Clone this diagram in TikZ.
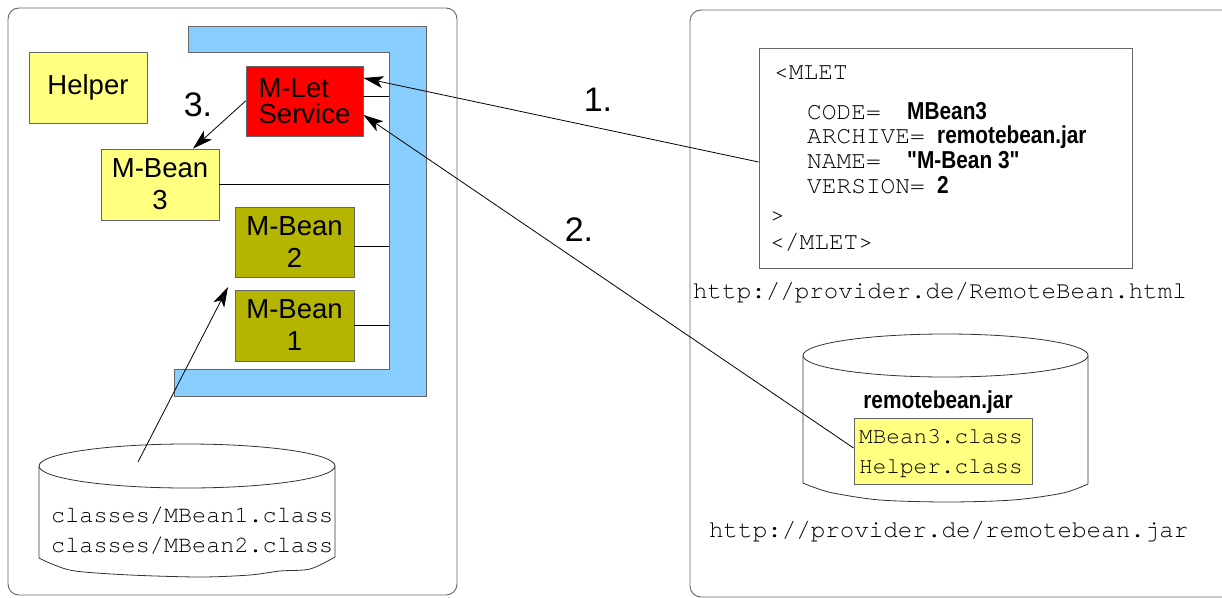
\documentclass[tikz,border=0pt]{standalone}
\usepackage{fontspec}
\setmainfont{Liberation Sans}
\newfontfamily\cour{TeX Gyre Cursor}
\newfontfamily\narrow[FakeStretch=0.85]{Liberation Sans}
\usetikzlibrary{arrows.meta,calc}
\definecolor{bracketblue}{HTML}{87CEFF}
\definecolor{paleyellow}{HTML}{FFFF80}
\definecolor{beanolive}{HTML}{B5B500}
\tikzset{
  frame/.style={draw=black!60, line width=0.9pt, rounded corners=11pt},
  box/.style={draw=black!60, line width=0.9pt, inner sep=0pt, align=center,
    font=\fontsize{27.5}{32}\selectfont},
  wire/.style={draw=black, line width=0.8pt},
  flow/.style={draw=black, line width=0.8pt, -{Stealth[length=20pt,width=12pt,inset=5pt]}},
  numlabel/.style={font=\fontsize{34}{40}\selectfont, inner sep=0pt},
  code/.style={anchor=base west, inner sep=0pt, font=\cour\fontsize{24.5}{29}\selectfont},
  url/.style={anchor=base west, inner sep=0pt, font=\cour\fontsize{24.2}{29}\selectfont},
  val/.style={anchor=base west, inner sep=0pt, font=\narrow\bfseries\fontsize{24.5}{29}\selectfont},
  cyl/.style={draw=black!80, line width=0.8pt, fill=white},
}
\begin{document}
\begin{tikzpicture}[x=1pt,y=-1pt]
\useasboundingbox (0,0) rectangle (1222,597);
\clip (0,0) rectangle (1222,597);

% the two machines
\draw[frame] (8,8) rectangle (457,595);
\draw[frame] (690,10) rectangle (1240,597);

% MBean server rail
\draw[fill=bracketblue, draw=black!60, line width=0.9pt]
  (188,26) -- (426,26) -- (426,396) -- (174,396) -- (174,369) -- (389,369) -- (389,52) -- (188,52) -- cycle;
\coordinate (rail) at (389,52);

% beans and services
\node[box, fill=paleyellow, minimum width=118pt, minimum height=71pt] (helper) at (88,87.5) {Helper};
\node[box, fill=red, minimum width=117pt, minimum height=70pt, align=left,
  font=\fontsize{27.5}{26}\selectfont] (mlet) at (304.5,101) {M-Let\\Service};
\node[box, fill=paleyellow, minimum width=118pt, minimum height=71pt] (mb3) at (160,184.5) {M-Bean\\3};
\node[box, fill=beanolive, minimum width=119pt, minimum height=70pt] (mb2) at (294.5,242) {M-Bean\\2};
\node[box, fill=beanolive, minimum width=119pt, minimum height=71pt] (mb1) at (294.5,325.5) {M-Bean\\1};

% registrations on the rail
\coordinate (w1) at ([yshift=5pt]mlet.east);
\coordinate (w2) at ([yshift=-4pt]mb2.east);
\draw[wire] (w1) -- (w1 -| rail);
\draw[wire] (mb3.east) -- (mb3.east -| rail);
\draw[wire] (w2) -- (w2 -| rail);
\draw[wire] (mb1.east) -- (mb1.east -| rail);

% local class store
\draw[cyl] (39,466) -- (39,558) plot[smooth] coordinates
  {(39,558) (52,564) (75,571) (130,575) (200,577) (250,575) (280,571) (310,569) (335,557)}
  -- (335,466);
\draw[cyl] (187,466) ellipse [x radius=148, y radius=22];
\node[url, font=\cour\fontsize{23.5}{28}\selectfont] (c1) at (51,522) {classes/MBean1.class};
\node[url, font=\cour\fontsize{23.5}{28}\selectfont] (c2) at (51,552) {classes/MBean2.class};
\coordinate (loadsrc) at (138,462);
\coordinate (loadtip) at (228,287);
\draw[flow] (loadsrc) -- (loadtip);

% MLET document
\node[draw=black!60, line width=0.9pt, minimum width=373pt, minimum height=220pt, inner sep=0pt]
  (mletdoc) at (945.5,158) {};
\node[code] at (774,79) {<MLET};
\node[code] at (807,119) {CODE=};
\node[val]  at (907,119) {MBean3};
\node[code] at (807,143) {ARCHIVE=};
\node[val]  at (937,143) {remotebean.jar};
\node[code] at (807,168) {NAME=};
\node[val]  at (907,168) {"M-Bean 3"};
\node[code] at (807,193) {VERSION=};
\node[val]  at (937,193) {2};
\node[code] at (770,222) {>};
\node[code] at (770,249) {</MLET>};
\node[url] (u1) at (693,298) {http://provider.de/RemoteBean.html};

% remote archive
\draw[cyl] (803,355.5) -- (803,483) plot[smooth] coordinates
  {(803,483) (813,487) (833,493) (880,500) (947,502) (1013,500) (1063,493) (1088,484)}
  -- (1088,355.5);
\draw[cyl] (945.5,355.5) ellipse [x radius=142.5, y radius=21.5];
\node[val, anchor=base] at (938,408) {remotebean.jar};
\node[draw=black!60, line width=0.9pt, fill=paleyellow, minimum width=178pt, minimum height=66pt, inner sep=0pt]
  (jarlist) at (943,451) {};
\node[url, font=\cour\fontsize{22.7}{28}\selectfont] at (859,443) {MBean3.class};
\node[url, font=\cour\fontsize{22.7}{28}\selectfont] at (859,473) {Helper.class};
\node[url] (u2) at (709,537) {http://provider.de/remotebean.jar};

% loading steps
\draw[flow] ([yshift=-4pt]mletdoc.west) -- ([yshift=23pt]mlet.east);
\draw[flow] ([yshift=3pt]jarlist.west) -- ([yshift=-14pt]mlet.east);
\draw[flow] (mlet.west) -- ([xshift=33pt]mb3.north);

\node[numlabel] (n1) at (598,100) {1.};
\node[numlabel] (n2) at (579,230) {2.};
\node[numlabel] (n3) at (198,105) {3.};
\end{tikzpicture}
\end{document}
